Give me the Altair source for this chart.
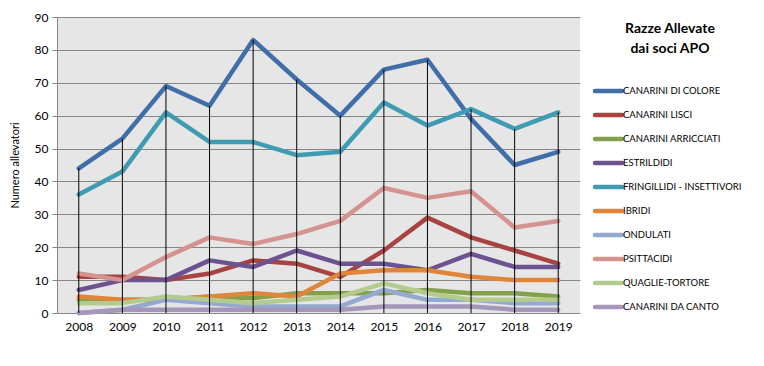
import altair as alt
import pandas as pd

years = ["2008", "2009", "2010", "2011", "2012", "2013", "2014", "2015", "2016", "2017", "2018", "2019"]

series_names = [
    "CANARINI DI COLORE",
    "CANARINI LISCI",
    "CANARINI ARRICCIATI",
    "ESTRILDIDI",
    "FRINGILLIDI - INSETTIVORI",
    "IBRIDI",
    "ONDULATI",
    "PSITTACIDI",
    "QUAGLIE-TORTORE",
    "CANARINI DA CANTO",
]

canarini_di_colore = [44, 53, 69, 63, 83, 71, 60, 74, 77, 59, 45, 49]
canarini_lisci = [11, 11, 10, 12, 16, 15, 11, 19, 29, 23, 19, 15]
canarini_arricciati = [4, 4, 4, 5, 4.5, 6, 6, 6, 7, 6, 6, 5]
estrildidi = [7, 10, 10, 16, 14, 19, 15, 15, 13, 18, 14, 14]
fringillidi = [36, 43, 61, 52, 52, 48, 49, 64, 57, 62, 56, 61]
ibridi = [5, 4, 4, 5, 6, 5, 12, 13, 13, 11, 10, 10]
ondulati = [0, 1, 4, 3, 2, 2, 2, 7, 4, 4, 3, 3]
psittacidi = [12, 10, 17, 23, 21, 24, 28, 38, 35, 37, 26, 28]
quaglie_tortore = [3, 3, 5, 4, 3, 4, 5, 9, 6, 4, 4, 4]
canarini_da_canto = [0, 1, 1, 1, 1, 1, 1, 2, 2, 2, 1, 1]

all_values = [canarini_di_colore, canarini_lisci, canarini_arricciati, estrildidi, fringillidi,
              ibridi, ondulati, psittacidi, quaglie_tortore, canarini_da_canto]

colors = ["#3F6EA8", "#A94341", "#84A04B", "#6C5390", "#3F9BB2",
          "#E0853A", "#93A9CF", "#D59390", "#B4CB90", "#A596BA"]

rows = []
for i, (name, vals) in enumerate(zip(series_names, all_values)):
    for y, v in zip(years, vals):
        rows.append({"series": name, "year": y, "value": v, "idx": i})
df = pd.DataFrame(rows)
legend_df = pd.DataFrame({"series": series_names})

FONT = "Lato"
W, H = 523, 296

color_scale = alt.Scale(domain=series_names, range=colors)
y_scale = alt.Scale(domain=[0, 90], nice=False)
y_axis = alt.Axis(title="Numero allevatori", values=list(range(0, 91, 10)), labelOverlap=False,
                  grid=True, gridColor="#868686", gridWidth=1,
                  domainColor="#868686", tickColor="#868686", tickSize=5,
                  labelFontSize=12, labelColor="black", labelPadding=4,
                  titleFontSize=11, titleFontWeight="normal", titleColor="black",
                  titlePadding=14, labelFont=FONT, titleFont=FONT)

x_enc = alt.X("year:O", scale=alt.Scale(type="point", padding=0.5),
              axis=alt.Axis(title=None, domain=False, ticks=False, labelAngle=0,
                            labelFontSize=12, labelColor="black", labelPadding=8, labelFont=FONT))

lines = alt.Chart(df).mark_line(strokeWidth=4.5, strokeCap="round", strokeJoin="round").encode(
    x=x_enc,
    y=alt.Y("value:Q", scale=y_scale, axis=y_axis),
    color=alt.Color("series:N", scale=color_scale, legend=None),
    detail="series:N",
    order="idx:Q",
)

drops = alt.Chart(df).mark_rule(color="black", strokeWidth=1).encode(
    x=alt.X("year:O"),
    y=alt.Y("max(value):Q", scale=y_scale, axis=y_axis),
    y2=alt.datum(0),
)

legend_y = alt.Y("series:N", sort=series_names, axis=None,
                 scale=alt.Scale(type="point", range=[74, 290], padding=0))

legend_rules = alt.Chart(legend_df).mark_rule(strokeWidth=4.5, strokeCap="round").encode(
    x=alt.value(W + 15),
    x2=alt.value(W + 42),
    y=legend_y,
    color=alt.Color("series:N", scale=color_scale, legend=None),
)
legend_text = alt.Chart(legend_df).mark_text(align="left", baseline="middle", fontSize=9.5,
                                             font=FONT, color="black").encode(
    x=alt.value(W + 43),
    y=legend_y,
    text="series:N",
)
title_text = alt.Chart(pd.DataFrame({"t": ["Razze Allevate\ndai soci APO"]})).mark_text(
    align="center", baseline="top", fontSize=14, fontWeight="bold", font=FONT,
    color="black", lineBreak="\n", lineHeight=20
).encode(x=alt.value(W + 90), y=alt.value(5), text="t:N")

main = alt.layer(lines, drops).resolve_scale(y="shared")

chart = alt.layer(main, legend_rules, legend_text, title_text).resolve_scale(y="independent").properties(
    width=W, height=H,
    autosize=alt.AutoSizeParams(type="none"),
    padding={"left": 49, "top": 9, "right": 176, "bottom": 45},
    background="white",
).configure_view(fill="#E6E6E6", stroke=None)

chart.save("out.html", embed_options={"renderer": "svg", "actions": False})
